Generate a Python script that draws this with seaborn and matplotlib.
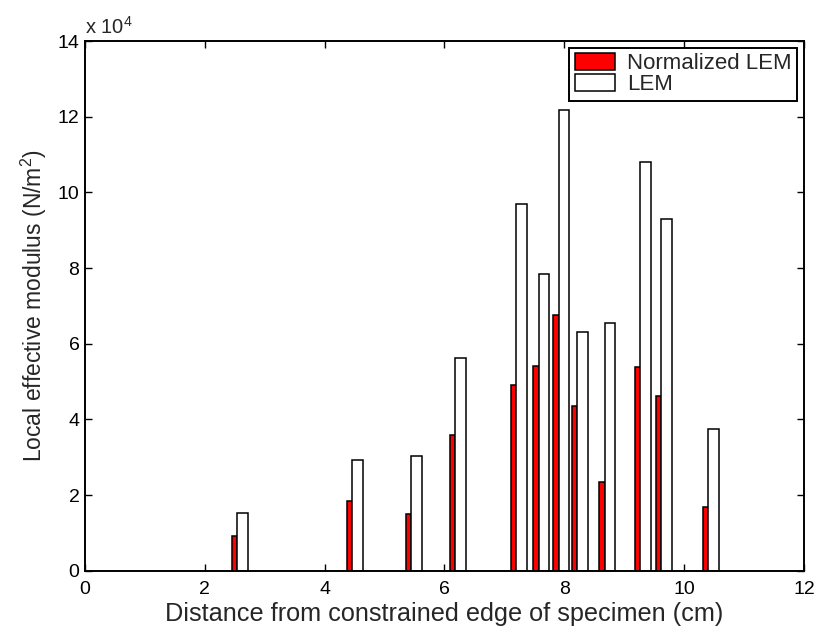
import numpy as np
import pandas as pd
import matplotlib
matplotlib.use("Agg")
import matplotlib.pyplot as plt
from matplotlib.patches import Patch
from matplotlib.ticker import FuncFormatter
import seaborn as sns

# Measurement points along the specimen (cm): shared edge of each bar pair
distance = [2.543, 4.457, 5.449, 6.176, 7.197, 7.575, 7.903, 8.212, 8.673, 9.268, 9.617, 10.40]
# Local effective modulus values (N/m^2)
normalized_lem = [0.925e4, 1.84e4, 1.49e4, 3.59e4, 4.91e4, 5.42e4, 6.75e4, 4.34e4, 2.35e4, 5.39e4, 4.62e4, 1.675e4]
lem = [1.52e4, 2.92e4, 3.03e4, 5.62e4, 9.68e4, 7.83e4, 12.17e4, 6.30e4, 6.54e4, 10.81e4, 9.29e4, 3.75e4]

series_labels = ["Normalized LEM", "LEM"]
x_ticks = [0, 2, 4, 6, 8, 10, 12]
y_ticks = [0, 2e4, 4e4, 6e4, 8e4, 10e4, 12e4, 14e4]

sns.set_style("ticks")
plt.rcParams["font.family"] = ["Liberation Sans", "DejaVu Sans"]
plt.rcParams["mathtext.fontset"] = "custom"
plt.rcParams["mathtext.rm"] = "Liberation Sans"
plt.rcParams["mathtext.it"] = "Liberation Sans:italic"
plt.rcParams["mathtext.bf"] = "Liberation Sans:bold"

fig = plt.figure(figsize=(8.22, 6.29), dpi=100)
ax = fig.add_axes([0.1034, 0.0927, 0.8747, 0.8421])

w_norm = 0.09   # bar widths in cm
w_lem = 0.175

df_norm = pd.DataFrame({"x": np.array(distance) - w_norm / 2, "y": normalized_lem})
df_lem = pd.DataFrame({"x": np.array(distance) + w_lem / 2, "y": lem})

def native_gap(v):
    return np.min(np.diff(np.unique(v)))

sns.barplot(data=df_norm, x="x", y="y", native_scale=True, orient="x",
            width=w_norm / native_gap(df_norm["x"]), color="#ff0000",
            saturation=1, edgecolor="black", linewidth=1.1, errorbar=None, ax=ax)
sns.barplot(data=df_lem, x="x", y="y", native_scale=True, orient="x",
            width=w_lem / native_gap(df_lem["x"]), color="white",
            saturation=1, edgecolor="black", linewidth=1.1, errorbar=None, ax=ax)

ax.set_xlim(0, 12)
ax.set_ylim(0, 14e4)
ax.set_xticks(x_ticks)
ax.set_yticks(y_ticks)
ax.xaxis.set_major_formatter(FuncFormatter(lambda v, p: f"{v:g}"))
ax.yaxis.set_major_formatter(FuncFormatter(lambda v, p: f"{v / 1e4:g}"))

ax.tick_params(direction="in", top=True, right=True, length=5, width=1.0,
               labelsize=14, colors="black")
ax.tick_params(axis="x", pad=7.5)
ax.tick_params(axis="y", pad=4)
for s in ax.spines.values():
    s.set_visible(True)
    s.set_linewidth(1.4)
    s.set_color("black")

ax.set_xlabel("Distance from constrained edge of specimen (cm)", fontsize=18.2, labelpad=2.5)
ax.set_ylabel("Local effective modulus (N/m$^2$)", fontsize=16.5, labelpad=6)

ax.annotate(r"x 10$^{4}$", xy=(0, 1), xycoords="axes fraction",
            xytext=(0, 5.5), textcoords="offset points",
            fontsize=14.5, ha="left", va="baseline")

handles = [Patch(facecolor="#ff0000", edgecolor="black", linewidth=1.1),
           Patch(facecolor="white", edgecolor="black", linewidth=1.1)]
leg = ax.legend(handles, series_labels, loc="upper right", fontsize=16,
                frameon=True, fancybox=False, framealpha=1, edgecolor="black",
                handlelength=1.8, handleheight=0.75, handletextpad=0.55,
                labelspacing=0.0, borderpad=0.25, borderaxespad=0.3)
leg.get_frame().set_linewidth(1.4)

fig.savefig("out.png", dpi=100)
